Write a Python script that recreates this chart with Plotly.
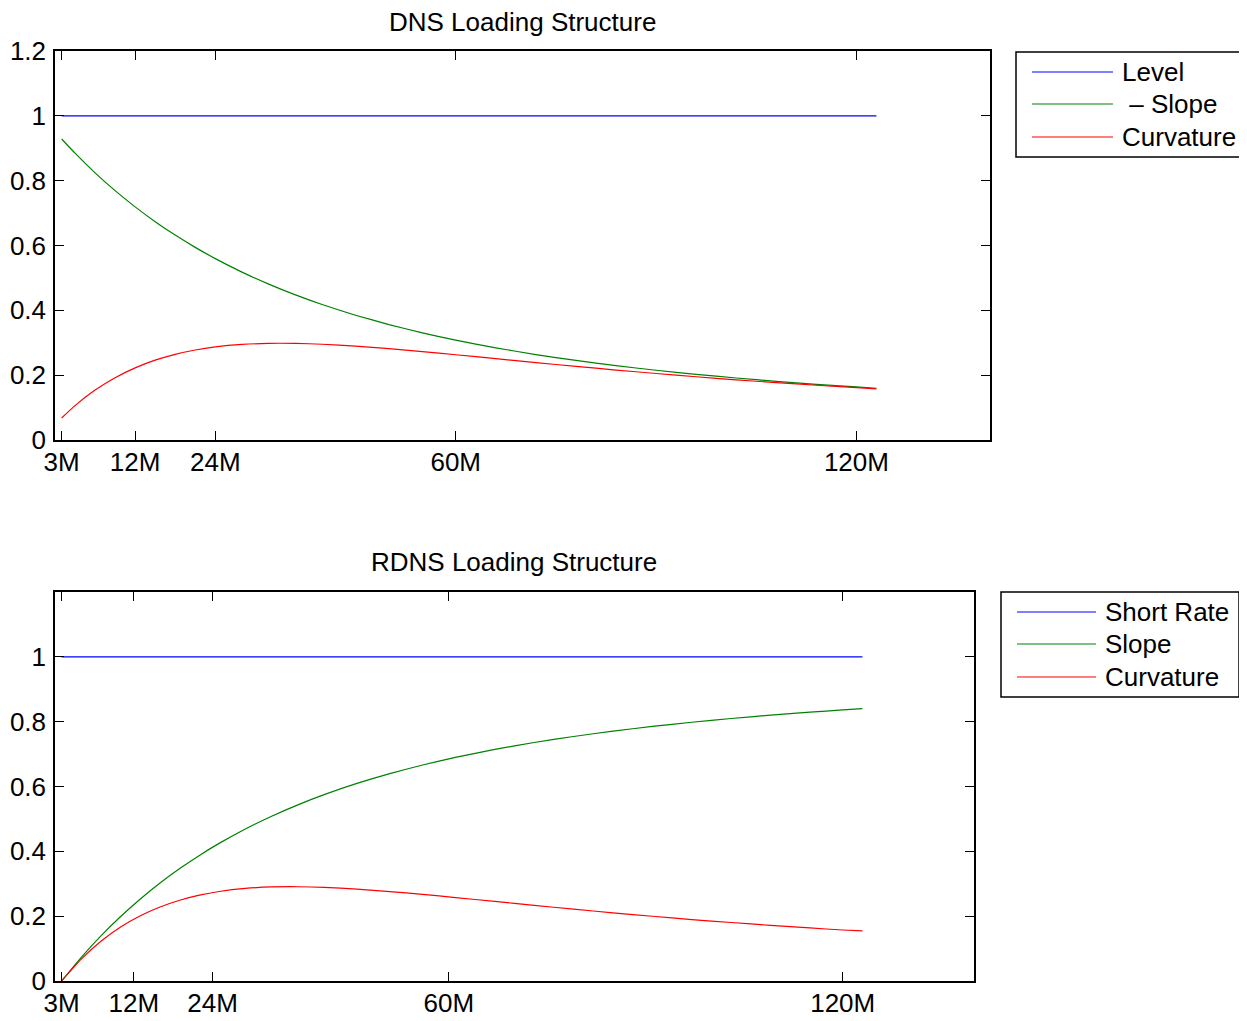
import plotly.graph_objects as go

# ---------------- data ----------------
tick_vals = [1, 12, 24, 60, 120]
tick_text = ["3M", "12M", "24M", "60M", "120M"]

# DNS (top panel)
dns_level_x = [1, 123]
dns_level = [1.0, 1.0]
dns_x = [1, 3, 6, 9, 12, 15, 18, 21, 24, 28, 32, 36, 40, 45, 50, 55, 60,
         66, 72, 78, 84, 90, 96, 102, 108, 114, 120, 123]
dns_slope = [0.9286, 0.8848, 0.8242, 0.7692, 0.7192, 0.6736, 0.6321, 0.5942,
             0.5596, 0.5179, 0.4808, 0.4476, 0.4179, 0.3850, 0.3561, 0.3306,
             0.3080, 0.2843, 0.2636, 0.2454, 0.2294, 0.2152, 0.2026, 0.1912,
             0.1811, 0.1719, 0.1636, 0.1597]
dns_curv = [0.0679, 0.1060, 0.1539, 0.1922, 0.2226, 0.2462, 0.2642, 0.2776,
            0.2871, 0.2948, 0.2981, 0.2980, 0.2954, 0.2896, 0.2818, 0.2727,
            0.2630, 0.2509, 0.2389, 0.2271, 0.2158, 0.2052, 0.1951, 0.1857,
            0.1770, 0.1689, 0.1613, 0.1578]

# RDNS (bottom panel)
rdns_level_x = [1, 123]
rdns_level = [1.0, 1.0]
rdns_x = [1, 4, 7, 10, 13, 16, 19, 22, 25, 29, 33, 37, 41, 46, 51, 56, 61,
          67, 73, 79, 85, 91, 97, 103, 109, 115, 120, 123]
rdns_slope = [0.0, 0.0731, 0.1391, 0.1989, 0.2530, 0.3022, 0.3468, 0.3875,
              0.4245, 0.4689, 0.5084, 0.5435, 0.5749, 0.6095, 0.6397, 0.6663,
              0.6897, 0.7143, 0.7357, 0.7543, 0.7708, 0.7853, 0.7982, 0.8097,
              0.8200, 0.8293, 0.8363, 0.8403]
rdns_curv = [0.0, 0.0677, 0.1225, 0.1663, 0.2010, 0.2282, 0.2491, 0.2647,
             0.2760, 0.2855, 0.2901, 0.2908, 0.2889, 0.2835, 0.2760, 0.2672,
             0.2574, 0.2454, 0.2333, 0.2216, 0.2103, 0.1997, 0.1896, 0.1804,
             0.1717, 0.1636, 0.1574, 0.1545]

top_legend = ["Level", "\u00a0\u2013 Slope", "Curvature"]
bot_legend = ["Short Rate", "Slope", "Curvature"]
colors = ["#0000ff", "#008000", "#ff0000"]

# ---------------- layout geometry ----------------
# The page body has an 8px margin, so the figure is made 16px smaller and
# all page-pixel positions are shifted by 8px.
OFF = 8
W, H = 1247 - 2 * OFF, 1021 - 2 * OFF
FONT = "Liberation Sans, Arial, Helvetica, sans-serif"
FS = 26


def px(x):
    return (x - OFF) / W


def py(y):
    return 1 - (y - OFF) / H


fig = go.Figure()

line_w = 1.2
for xs, ys, c in [(dns_level_x, dns_level, colors[0]),
                  (dns_x, dns_slope, colors[1]),
                  (dns_x, dns_curv, colors[2])]:
    fig.add_trace(go.Scatter(x=xs, y=ys, mode="lines", xaxis="x", yaxis="y",
                             line=dict(color=c, width=line_w, shape="spline",
                                       smoothing=0.5),
                             showlegend=False, hoverinfo="skip"))
for xs, ys, c in [(rdns_level_x, rdns_level, colors[0]),
                  (rdns_x, rdns_slope, colors[1]),
                  (rdns_x, rdns_curv, colors[2])]:
    fig.add_trace(go.Scatter(x=xs, y=ys, mode="lines", xaxis="x2", yaxis="y2",
                             line=dict(color=c, width=line_w, shape="spline",
                                       smoothing=0.5),
                             showlegend=False, hoverinfo="skip"))

axis_common = dict(showline=True, linecolor="black", linewidth=1.5,
                   mirror="ticks", ticks="inside", ticklen=9, tickwidth=1,
                   tickcolor="black", showgrid=False, zeroline=False,
                   automargin=False,
                   tickfont=dict(family=FONT, size=FS, color="black"))
x_common = dict(axis_common, ticklabelstandoff=-2)
y_common = dict(axis_common, ticklabelstandoff=2)

fig.update_layout(
    template="none",
    width=W, height=H,
    margin=dict(l=0, r=0, t=0, b=0, pad=0, autoexpand=False),
    paper_bgcolor="white", plot_bgcolor="white",
    font=dict(family=FONT, size=FS, color="black"),
    showlegend=False,
    xaxis=dict(domain=[px(55), px(990)], range=[0, 140], anchor="y",
               tickmode="array", tickvals=tick_vals, ticktext=tick_text,
               **x_common),
    yaxis=dict(domain=[py(440), py(51)], range=[0, 1.2], anchor="x",
               tickmode="array", tickvals=[0, 0.2, 0.4, 0.6, 0.8, 1.0, 1.2],
               ticktext=["0", "0.2", "0.4", "0.6", "0.8", "1", "1.2"],
               **y_common),
    xaxis2=dict(domain=[px(55), px(974)], range=[0, 140], anchor="y2",
                tickmode="array", tickvals=tick_vals, ticktext=tick_text,
                **x_common),
    yaxis2=dict(domain=[py(981), py(592)], range=[0, 1.2], anchor="x2",
                tickmode="array", tickvals=[0, 0.2, 0.4, 0.6, 0.8, 1.0],
                ticktext=["0", "0.2", "0.4", "0.6", "0.8", "1"],
                **y_common),
)

annotations = []
shapes = []

# titles
annotations.append(dict(text="DNS Loading Structure", x=px(522), y=py(22),
                        xref="paper", yref="paper", xanchor="center",
                        yanchor="middle", showarrow=False,
                        font=dict(family=FONT, size=FS, color="black")))
annotations.append(dict(text="RDNS Loading Structure", x=px(514), y=py(562),
                        xref="paper", yref="paper", xanchor="center",
                        yanchor="middle", showarrow=False,
                        font=dict(family=FONT, size=FS, color="black")))


def add_legend(box, line_x0, line_x1, ys, text_x, labels):
    x0, y0, x1, y1 = box
    shapes.append(dict(type="rect", xref="paper", yref="paper",
                       x0=px(x0), x1=px(x1), y0=py(y1), y1=py(y0),
                       line=dict(color="black", width=1.5),
                       fillcolor="white", layer="below"))
    for yy, lab, c in zip(ys, labels, colors):
        shapes.append(dict(type="line", xref="paper", yref="paper",
                           x0=px(line_x0), x1=px(line_x1), y0=py(yy), y1=py(yy),
                           line=dict(color=c, width=1.2)))
        annotations.append(dict(text=lab, x=px(text_x), y=py(yy),
                                xref="paper", yref="paper", xanchor="left",
                                yanchor="middle", showarrow=False,
                                font=dict(family=FONT, size=FS, color="black")))


add_legend((1016, 52, 1243, 157), 1032, 1113, [72, 104, 137], 1120, top_legend)
add_legend((1001, 592, 1239, 697), 1017, 1096, [612, 644, 677], 1103, bot_legend)

fig.update_layout(annotations=annotations, shapes=shapes)

fig.write_html("out.html")
